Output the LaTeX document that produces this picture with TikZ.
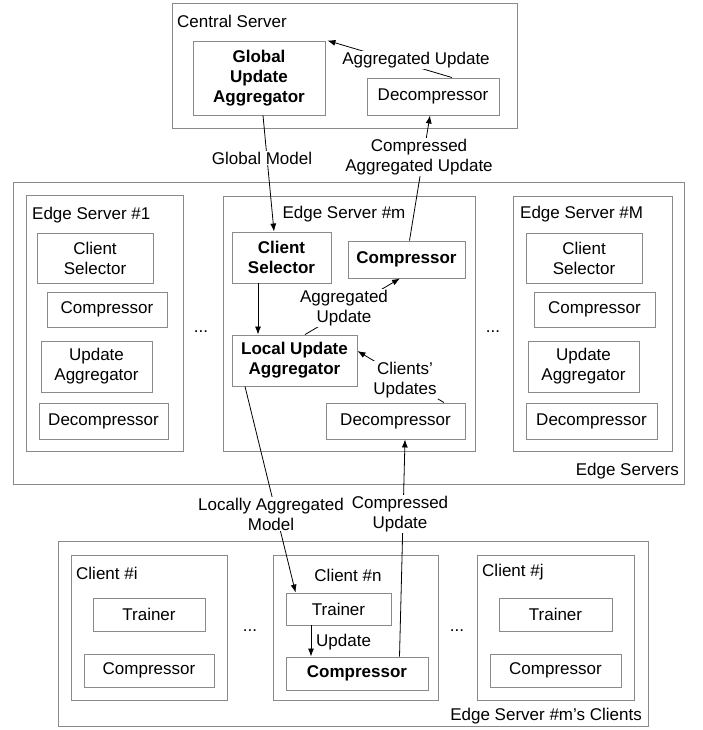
\documentclass[tikz,border=0pt]{standalone}
\usepackage{fontspec}
\setmainfont{Liberation Sans}
\usetikzlibrary{arrows.meta,calc}
\definecolor{boxgray}{HTML}{8A8A8A}
\tikzset{
  box/.style={draw=boxgray, line width=0.9pt, inner sep=0pt, align=center, fill=white},
  bbox/.style={box, font=\fontsize{17}{20}\selectfont\bfseries},
  lbl/.style={inner sep=0pt, align=center},
  wlbl/.style={fill=white, inner sep=1pt, align=center},
  arr/.style={draw=black, line width=0.8pt, -{Latex[length=8pt,width=6pt]}},
}
\newcommand{\bx}[6]{\node[#1, minimum width=#4, minimum height=#5] (#2) at (#3) {#6};}
\begin{document}
\begin{tikzpicture}[x=1pt, y=-1pt, font=\fontsize{17}{20}\selectfont]
\useasboundingbox (0,0) rectangle (702,730);

% ---------- Central server ----------
\bx{box}{cs}{344.5,65.5}{345}{125}{}
\node[lbl, anchor=west] (cslbl) at (177,21) {Central Server};
\bx{bbox}{gua}{259,78}{132}{74}{Global\\Update\\Aggregator}
\bx{box}{dc}{433,96.5}{132}{37}{Decompressor}

% ---------- Edge servers ----------
\bx{box}{es}{348.5,333}{671}{302}{}
\node[lbl, anchor=east] (eslbl) at (679,471) {Edge Servers};

\bx{box}{esa}{104.5,323}{157}{256}{}
\node[lbl, anchor=west] (esalbl) at (32,215) {Edge Server \#1};
\bx{box}{csa}{95,258}{116}{50}{Client\\Selector}
\bx{box}{ca}{107,309.5}{120}{35}{Compressor}
\bx{box}{uaa}{96.5,366.5}{111}{51}{Update\\Aggregator}
\bx{box}{da}{103.5,421}{129}{36}{Decompressor}

\bx{box}{esm}{349,323.5}{252}{255}{}
\node[lbl] (esmlbl) at (344,214) {Edge Server \#m};
\bx{bbox}{csm}{281.5,257.5}{99}{51}{Client\\Selector}
\bx{bbox}{cm}{406.5,259.5}{117}{37}{Compressor}
\bx{bbox}{lua}{294.5,360.5}{125}{51}{Local Update\\Aggregator}
\bx{box}{dm}{395.5,421}{139}{36}{Decompressor}

\bx{box}{esb}{592.5,323.5}{159}{255}{}
\node[lbl, anchor=west] (esblbl) at (520,214) {Edge Server \#M};
\bx{box}{csb}{584,258}{116}{50}{Client\\Selector}
\bx{box}{cb}{594.5,309.5}{121}{35}{Compressor}
\bx{box}{uab}{583.5,366.5}{111}{51}{Update\\Aggregator}
\bx{box}{db}{591.5,421}{131}{36}{Decompressor}

\node[lbl] (dots1) at (201,332) {...};
\node[lbl] (dots2) at (493,332) {...};

% ---------- Clients ----------
\bx{box}{cl}{353,633.5}{590}{185}{}
\node[lbl, anchor=east] (cllbl) at (642,716) {Edge Server \#m’s Clients};

\bx{box}{ci}{149,627.5}{156}{145}{}
\node[lbl, anchor=west] (cilbl) at (76,573) {Client \#i};
\bx{box}{ti}{149,614.5}{112}{33}{Trainer}
\bx{box}{cci}{149,670.5}{130}{33}{Compressor}

\bx{box}{cn}{355.5,627.5}{165}{145}{}
\node[lbl] (cnlbl) at (348,575) {Client \#n};
\bx{box}{tn}{338.5,609}{105}{32}{Trainer}
\bx{bbox}{ccn}{357,673.5}{142}{33}{Compressor}

\bx{box}{cj}{555.5,627.5}{157}{145}{}
\node[lbl, anchor=west] (cjlbl) at (482,572) {Client \#j};
\bx{box}{tj}{555.5,614.5}{113}{33}{Trainer}
\bx{box}{ccj}{555.5,670.5}{131}{33}{Compressor}

\node[lbl] (dots3) at (250,631) {...};
\node[lbl] (dots4) at (457,631) {...};

% ---------- Connectors ----------
% Aggregated Update (central)
\draw[arr] ([xshift=19pt]dc.north) -- ([xshift=2pt]gua.north east);
\node[wlbl] (l1) at (416,60) {Aggregated Update};

% Global Model
\draw[arr] ([xshift=4pt]gua.south) -- ([xshift=-7.5pt]csm.north);
\node[wlbl] (l2) at (262,158) {Global Model};

% Compressed Aggregated Update
\draw[arr] ([xshift=3pt]cm.north) -- ([xshift=-3pt]dc.south);
\node[wlbl] (l3) at (419,157) {Compressed\\Aggregated Update};

% Client selector -> local update aggregator
\draw[arr] ([xshift=-23.5pt]csm.south) -- ([xshift=-23.5pt]csm.south |- lua.north);

% Aggregated Update (edge m)
\draw[arr] ([xshift=10.5pt]lua.north) -- ([xshift=-6.5pt]cm.south);
\node[wlbl] (l4) at (344,308) {Aggregated\\Update};

% Clients' Updates
\draw[arr] ([xshift=48.5pt]dm.north) -- ([yshift=9.5pt]lua.east);
\node[wlbl] (l5) at (405,380) {Clients’\\Updates};

% Locally Aggregated Model
\draw[arr] ([xshift=-49.5pt]lua.south) -- ([xshift=10pt]tn.north west);
\node[wlbl] (l6) at (271,514) {Locally Aggregated\\Model};

% Compressed Update
\draw[arr] ([xshift=42.5pt]ccn.north) -- ([xshift=9.5pt]dm.south);
\node[wlbl] (l7) at (400,514) {Compressed\\Update};

% Update (client n)
\draw[arr] ([xshift=-27.5pt]tn.south) -- ([xshift=-27.5pt]tn.south |- ccn.north);
\node[lbl, anchor=west] (l8) at (316,642) {Update};

\end{tikzpicture}
\end{document}
